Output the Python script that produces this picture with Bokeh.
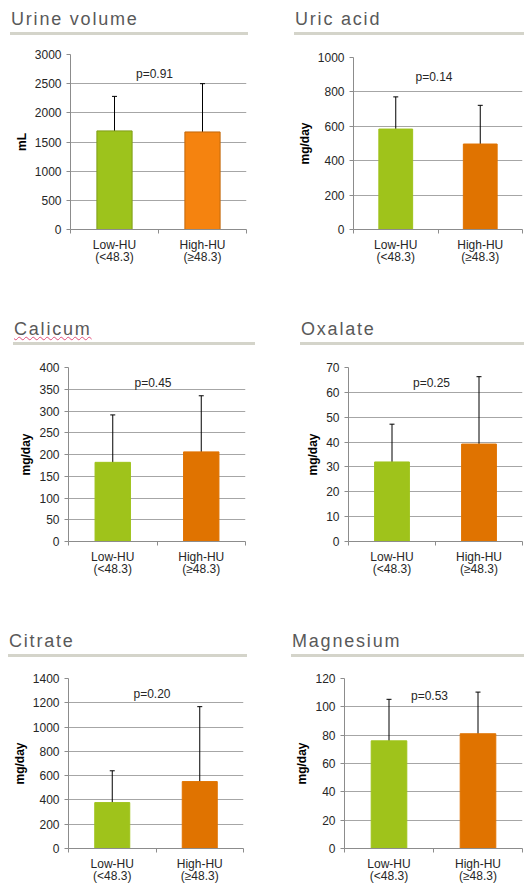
from bokeh.plotting import figure
from bokeh.models import (Range1d, FixedTicker, LinearAxis,
                          ColumnDataSource, Whisker, TeeHead, Label, Div)
from bokeh.layouts import row, column
from bokeh.embed import file_html
from bokeh.resources import INLINE

# ---------------- data ----------------
categories = ["Low-HU\n(<48.3)", "High-HU\n(\u226548.3)"]

urine_mean = [1690, 1672]
urine_lo = [1086, 822]
urine_hi = [2282, 2500]
urine_ticks = [0, 500, 1000, 1500, 2000, 2500, 3000]

uric_mean = [584, 497]
uric_lo = [396, 277]
uric_hi = [771, 722]
uric_ticks = [0, 200, 400, 600, 800, 1000]

calcium_mean = [182, 206]
calcium_lo = [73, 77]
calcium_hi = [291, 335]
calcium_ticks = [0, 50, 100, 150, 200, 250, 300, 350, 400]

oxalate_mean = [32.0, 39.2]
oxalate_lo = [17.3, 12.5]
oxalate_hi = [47.2, 66.3]
oxalate_ticks = [0, 10, 20, 30, 40, 50, 60, 70]

citrate_mean = [378, 551]
citrate_lo = [124, 0]
citrate_hi = [640, 1168]
citrate_ticks = [0, 200, 400, 600, 800, 1000, 1200, 1400]

magnesium_mean = [76, 81]
magnesium_lo = [47, 52.3]
magnesium_hi = [105.3, 110.4]
magnesium_ticks = [0, 20, 40, 60, 80, 100, 120]

p_values = ["0.91", "0.14", "0.45", "0.25", "0.20", "0.53"]
p_label_y = [2672, 885, 365, 63.7, 1276, 107.7]

titles = ["Urine volume", "Uric acid", "Calicum", "Oxalate", "Citrate", "Magnesium"]
units = ["mL", "mg/day", "mg/day", "mg/day", "mg/day", "mg/day"]

# ---------------- styling ----------------
FONT = "Liberation Sans"
AXIS_COL = "#8c8c8c"
GRID_COL = "#a6a6a6"
GREEN = "#9fc31b"
ORANGE = "#e07300"

n_cat = len(categories)
cat_pos = [i + 0.5 for i in range(n_cat)]          # category slot centres
cat_edges = [float(i) for i in range(n_cat + 1)]   # category slot boundaries


def title_div(text, ml, rw, h, pad_top, squiggle=False):
    if squiggle:
        deco = ("<span style=\"text-decoration:underline wavy #e0507a;"
                "text-decoration-thickness:1px;text-underline-offset:1px;\">%s</span>" % text)
    else:
        deco = text
    html = ("<div style=\"box-sizing:border-box;margin-left:%dpx;width:%dpx;height:%dpx;"
            "padding:%dpx 0 3px 1px;border-bottom:3px solid #d4d4ca;"
            "font-family:'Liberation Sans',Arial,sans-serif;font-size:18px;line-height:19px;"
            "color:#595959;letter-spacing:1.8px;white-space:nowrap;\">%s</div>") % (
                ml, rw, h, pad_top, deco)
    return Div(text=html, width=262, height=h, margin=0)


def panel(idx, mean, lo, hi, ticks, fills, lines, geom):
    ymax = ticks[-1]
    p = figure(x_range=Range1d(0, n_cat), y_range=Range1d(0, ymax),
               width=262, height=geom["h"], output_backend="svg", toolbar_location=None,
               x_axis_location=None, min_border_left=geom["l"], min_border_right=geom["r"],
               min_border_top=geom["t"], min_border_bottom=geom["b"],
               outline_line_color=None, background_fill_color="white",
               border_fill_color="white")
    edge_axis = LinearAxis(ticker=FixedTicker(ticks=cat_edges),
                           major_label_overrides={e: "" for e in cat_edges},
                           major_label_text_font_size="12px", major_label_standoff=0,
                           axis_line_color=AXIS_COL, major_tick_line_color=AXIS_COL,
                           major_tick_out=4, major_tick_in=0, minor_tick_line_color=None)
    cat_axis = LinearAxis(ticker=FixedTicker(ticks=cat_pos),
                          major_label_overrides={cat_pos[k]: categories[k] for k in range(n_cat)},
                          major_tick_line_color=None, axis_line_color=None,
                          minor_tick_line_color=None,
                          major_label_text_font_size="12px",
                          major_label_text_font=FONT,
                          major_label_text_color="#262626",
                          major_label_text_line_height=0.92,
                          major_label_standoff=-2)
    p.add_layout(edge_axis, "below")
    p.add_layout(cat_axis, "below")

    p.yaxis.ticker = FixedTicker(ticks=ticks)
    p.yaxis.axis_line_color = AXIS_COL
    p.yaxis.major_tick_line_color = AXIS_COL
    p.yaxis.major_tick_out = 4
    p.yaxis.major_tick_in = 0
    p.yaxis.minor_tick_line_color = None
    p.yaxis.major_label_text_font = FONT
    p.yaxis.major_label_text_font_size = "12px"
    p.yaxis.major_label_text_color = "#262626"
    p.yaxis.major_label_standoff = 5
    p.yaxis.axis_label = units[idx]
    p.yaxis.axis_label_text_font = FONT
    p.yaxis.axis_label_text_font_size = "12px"
    p.yaxis.axis_label_text_font_style = "bold"
    p.yaxis.axis_label_text_color = "black"
    p.yaxis.axis_label_standoff = 3
    p.ygrid.grid_line_color = GRID_COL
    p.ygrid.grid_line_width = 1.2
    p.xgrid.visible = False

    bar_src = ColumnDataSource(dict(x=cat_pos, top=mean, fill=fills, line=lines))
    p.vbar(x="x", top="top", width=0.4, source=bar_src, fill_color="fill",
           line_color="line", line_width=1)

    err_src = ColumnDataSource(dict(x=cat_pos, lo=lo, hi=hi))
    p.add_layout(Whisker(base="x", upper="hi", lower="lo", source=err_src,
                         line_color="black", line_width=1,
                         upper_head=TeeHead(size=5, line_color="black", line_width=1),
                         lower_head=TeeHead(size=5, line_color="black", line_width=1)))

    p.add_layout(Label(x=n_cat / 2, y=p_label_y[idx], text="p=" + p_values[idx], x_offset=-4,
                       text_align="center", text_baseline="middle",
                       text_font=FONT, text_font_size="12px", text_color="#262626"))
    return p


# figure geometry: height, borders (left, right, top, bottom)
geoms = [
    dict(h=283, l=70, r=16, t=19, b=89),
    dict(h=283, l=91, r=2, t=22, b=89),
    dict(h=285, l=68, r=17, t=22, b=89),
    dict(h=285, l=86, r=2, t=22, b=89),
    dict(h=229, l=68, r=19, t=21, b=35),
    dict(h=229, l=82, r=2, t=21, b=35),
]
# title block: margin-left, rule width, block height, top padding
heads = [(10, 238, 35, 10), (32, 230, 35, 10),
         (13, 242, 27, 2), (38, 224, 27, 2),
         (8, 239, 27, 2), (29, 233, 27, 2)]

data = [
    (urine_mean, urine_lo, urine_hi, urine_ticks),
    (uric_mean, uric_lo, uric_hi, uric_ticks),
    (calcium_mean, calcium_lo, calcium_hi, calcium_ticks),
    (oxalate_mean, oxalate_lo, oxalate_hi, oxalate_ticks),
    (citrate_mean, citrate_lo, citrate_hi, citrate_ticks),
    (magnesium_mean, magnesium_lo, magnesium_hi, magnesium_ticks),
]

cells = []
for i, (m, lo, hi, tk) in enumerate(data):
    if i == 0:
        fills = ["#9dc31c", "#f5830f"]
        lines = ["#7f9e17", "#c2680c"]
    else:
        fills = [GREEN, ORANGE]
        lines = [GREEN, ORANGE]
    fig = panel(i, m, lo, hi, tk, fills, lines, geoms[i])
    ml, rw, hh, pt = heads[i]
    d = title_div(titles[i], ml, rw, hh, pt, squiggle=(i == 2))
    cells.append(column(d, fig, spacing=0))

layout = column(row(cells[0], cells[1], spacing=0),
                row(cells[2], cells[3], spacing=0),
                row(cells[4], cells[5], spacing=0), spacing=0)

open("out.html", "w").write(file_html(layout, INLINE))
